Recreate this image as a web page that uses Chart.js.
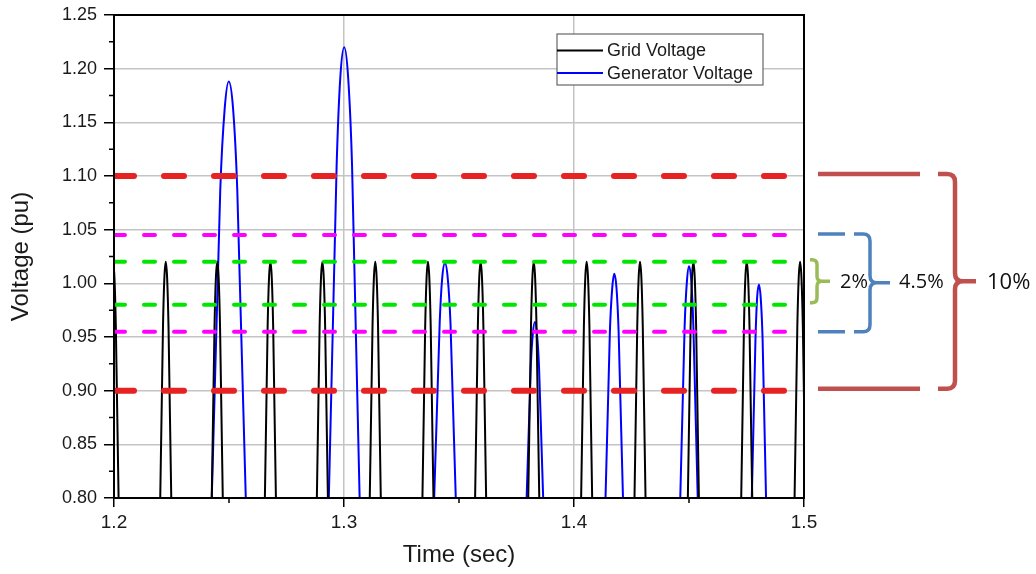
<!DOCTYPE html>
<html>
<head>
<meta charset="utf-8">
<title>Grid Voltage / Generator Voltage</title>
<script src="https://cdn.jsdelivr.net/npm/chart.js@4.4.1/dist/chart.umd.min.js"></script>
<style>
  html, body { margin: 0; padding: 0; background: #fff; }
  #wrap { width: 1036px; height: 574px; }
</style>
</head>
<body>
<div id="wrap"><canvas id="graficoTensao" width="1036" height="574"></canvas></div>
<script>
// Tensão da rede (pu) – só os topos das senoides aparecem acima de 0.80
const gridTime = [
  1.1966, 1.1972, 1.1984, 1.1990, 1.1996, 1.2002, 1.2008, 1.2020, 1.2026,
  1.2195, 1.2201, 1.2213, 1.2219, 1.2225, 1.2231, 1.2237, 1.2249, 1.2255,
  1.2419, 1.2425, 1.2437, 1.2443, 1.2449, 1.2455, 1.2461, 1.2473, 1.2479,
  1.2650, 1.2656, 1.2668, 1.2674, 1.2680, 1.2686, 1.2692, 1.2704, 1.2710,
  1.2876, 1.2882, 1.2894, 1.2900, 1.2906, 1.2912, 1.2918, 1.2930, 1.2936,
  1.3106, 1.3112, 1.3124, 1.3130, 1.3136, 1.3142, 1.3148, 1.3160, 1.3166,
  1.3335, 1.3341, 1.3353, 1.3359, 1.3365, 1.3371, 1.3377, 1.3389, 1.3395,
  1.3564, 1.3570, 1.3582, 1.3588, 1.3594, 1.3600, 1.3606, 1.3618, 1.3624,
  1.3795, 1.3801, 1.3813, 1.3819, 1.3825, 1.3831, 1.3837, 1.3849, 1.3855,
  1.4025, 1.4031, 1.4043, 1.4049, 1.4055, 1.4061, 1.4067, 1.4079, 1.4085,
  1.4257, 1.4263, 1.4275, 1.4281, 1.4287, 1.4293, 1.4299, 1.4311, 1.4317,
  1.4489, 1.4495, 1.4507, 1.4513, 1.4519, 1.4525, 1.4531, 1.4543, 1.4549,
  1.4721, 1.4727, 1.4739, 1.4745, 1.4751, 1.4757, 1.4763, 1.4775, 1.4781,
  1.4953, 1.4959, 1.4971, 1.4977, 1.4983, 1.4989, 1.4995, 1.5007, 1.5013
];
const gridVolt = [
  0.68, 0.80, 0.96, 1.005, 1.02, 1.005, 0.96, 0.80, 0.68,
  0.68, 0.80, 0.96, 1.005, 1.02, 1.005, 0.96, 0.80, 0.68,
  0.68, 0.80, 0.96, 1.005, 1.02, 1.005, 0.96, 0.80, 0.68,
  0.68, 0.80, 0.96, 1.005, 1.02, 1.005, 0.96, 0.80, 0.68,
  0.68, 0.80, 0.96, 1.005, 1.02, 1.005, 0.96, 0.80, 0.68,
  0.68, 0.80, 0.96, 1.005, 1.02, 1.005, 0.96, 0.80, 0.68,
  0.68, 0.80, 0.96, 1.005, 1.02, 1.005, 0.96, 0.80, 0.68,
  0.68, 0.80, 0.96, 1.005, 1.02, 1.005, 0.96, 0.80, 0.68,
  0.68, 0.80, 0.96, 1.005, 1.02, 1.005, 0.96, 0.80, 0.68,
  0.68, 0.80, 0.96, 1.005, 1.02, 1.005, 0.96, 0.80, 0.68,
  0.68, 0.80, 0.96, 1.005, 1.02, 1.005, 0.96, 0.80, 0.68,
  0.68, 0.80, 0.96, 1.005, 1.02, 1.005, 0.96, 0.80, 0.68,
  0.68, 0.80, 0.96, 1.005, 1.02, 1.005, 0.96, 0.80, 0.68,
  0.68, 0.80, 0.96, 1.005, 1.02, 1.005, 0.96, 0.80, 0.68
];

// Tensão do gerador (pu)
const genTime = [
  1.2407, 1.2425, 1.2462, 1.2481, 1.2499, 1.2518, 1.2536, 1.2573, 1.2592,
  1.2917, 1.2934, 1.2968, 1.2984, 1.3001, 1.3018, 1.3035, 1.3068, 1.3085,
  1.3380, 1.3392, 1.3416, 1.3427, 1.3439, 1.3451, 1.3463, 1.3486, 1.3498,
  1.3785, 1.3794, 1.3812, 1.3821, 1.3830, 1.3839, 1.3848, 1.3866, 1.3875,
  1.4128, 1.4137, 1.4156, 1.4166, 1.4175, 1.4185, 1.4194, 1.4213, 1.4223,
  1.4453, 1.4462, 1.4481, 1.4491, 1.4500, 1.4510, 1.4519, 1.4538, 1.4548,
  1.4765, 1.4773, 1.4789, 1.4796, 1.4804, 1.4812, 1.4820, 1.4835, 1.4843
];
const genVolt = [
  0.60, 0.80, 1.087, 1.162, 1.188, 1.162, 1.087, 0.80, 0.60,
  0.59, 0.80, 1.110, 1.192, 1.220, 1.192, 1.110, 0.80, 0.59,
  0.69, 0.80, 0.963, 1.005, 1.019, 1.005, 0.963, 0.80, 0.69,
  0.71, 0.80, 0.922, 0.953, 0.964, 0.953, 0.922, 0.80, 0.71,
  0.69, 0.80, 0.955, 0.995, 1.009, 0.995, 0.955, 0.80, 0.69,
  0.69, 0.80, 0.960, 1.002, 1.016, 1.002, 0.960, 0.80, 0.69,
  0.70, 0.80, 0.948, 0.986, 0.999, 0.986, 0.948, 0.80, 0.70
];

// Faixas de tolerância: ±10%, ±4.5%, ±2%
const limitesVermelho = [1.10, 0.90];
const limitesMagenta = [1.045, 0.955];
const limitesVerde = [1.02, 0.98];
const faixaRotulos = ['2%', '4.5%', '10%'];

const tempoMin = 1.2, tempoMax = 1.5;
const tensaoMin = 0.80, tensaoMax = 1.25;
const xMinorTicks = [1.25, 1.35, 1.45];
const yMinorTicks = [0.825, 0.875, 0.925, 0.975, 1.025, 1.075, 1.125, 1.175, 1.225];

const pontos = (ts, vs) => ts.map((t, i) => ({ x: t, y: vs[i] }));

const linhaLimite = (v, cor, largura, dash) => ({
    data: [{ x: tempoMin, y: v }, { x: tempoMax, y: v }],
    borderColor: cor,
    borderWidth: largura,
    borderDash: dash,
    borderCapStyle: 'round',
    pointRadius: 0,
    order: 0
});

Chart.defaults.font.family = "'Liberation Sans', Arial, sans-serif";
Chart.defaults.color = '#1a1a1a';

// Moldura, ticks menores, legenda e chaves das faixas
const extras = {
    id: 'extras',
    afterDraw(chart) {
        const { ctx, chartArea: a, scales } = chart;
        const xs = scales.x, ys = scales.y;
        ctx.save();

        // ticks menores
        ctx.strokeStyle = '#000';
        ctx.lineWidth = 1.5;
        ctx.beginPath();
        xMinorTicks.forEach(v => {
            const px = xs.getPixelForValue(v);
            ctx.moveTo(px, a.bottom);
            ctx.lineTo(px, a.bottom + 5);
        });
        yMinorTicks.forEach(v => {
            const py = ys.getPixelForValue(v);
            ctx.moveTo(a.left - 5, py);
            ctx.lineTo(a.left, py);
        });
        ctx.stroke();

        // moldura
        ctx.lineWidth = 2;
        ctx.strokeRect(a.left, a.top, a.right - a.left, a.bottom - a.top);

        // legenda
        const lx = a.left + 443, ly = a.top + 19, lw = 206, lh = 51;
        ctx.fillStyle = '#fff';
        ctx.fillRect(lx, ly, lw, lh);
        ctx.strokeStyle = '#666';
        ctx.lineWidth = 1.2;
        ctx.strokeRect(lx, ly, lw, lh);
        const itens = chart.data.datasets.filter(d => d.label);
        ctx.font = "18px 'Liberation Sans', Arial, sans-serif";
        ctx.textBaseline = 'middle';
        itens.forEach((d, i) => {
            const yy = ly + 16.5 + i * 22.5;
            ctx.strokeStyle = d.borderColor;
            ctx.lineWidth = 2;
            ctx.beginPath();
            ctx.moveTo(lx, yy);
            ctx.lineTo(lx + 46, yy);
            ctx.stroke();
            ctx.fillStyle = '#1a1a1a';
            ctx.fillText(d.label, lx + 50, yy + 1);
        });

        // chaves à direita
        const chave = (x0, xv, xt, yT, yB, r) => {
            const ym = (yT + yB) / 2;
            ctx.beginPath();
            ctx.moveTo(x0, yT);
            ctx.lineTo(xv - r, yT);
            ctx.quadraticCurveTo(xv, yT, xv, yT + r);
            ctx.lineTo(xv, ym - r);
            ctx.quadraticCurveTo(xv, ym, xv + r, ym);
            ctx.lineTo(xt, ym);
            ctx.moveTo(x0, yB);
            ctx.lineTo(xv - r, yB);
            ctx.quadraticCurveTo(xv, yB, xv, yB - r);
            ctx.lineTo(xv, ym + r);
            ctx.quadraticCurveTo(xv, ym, xv + r, ym);
            ctx.stroke();
        };
        const px = v => ys.getPixelForValue(v);
        const r0 = a.right;
        ctx.lineCap = 'butt';

        // 10%
        ctx.strokeStyle = '#c0504d';
        ctx.lineWidth = 4.5;
        ctx.beginPath();
        ctx.moveTo(r0 + 14, px(limitesVermelho[0]) - 2);
        ctx.lineTo(r0 + 116, px(limitesVermelho[0]) - 2);
        ctx.moveTo(r0 + 14, px(limitesVermelho[1]) - 2);
        ctx.lineTo(r0 + 116, px(limitesVermelho[1]) - 2);
        ctx.stroke();
        chave(r0 + 134, r0 + 151, r0 + 172, px(limitesVermelho[0]) - 2, px(limitesVermelho[1]) - 2, 8);

        // 4.5%
        ctx.strokeStyle = '#4f81bd';
        ctx.lineWidth = 3.5;
        ctx.beginPath();
        ctx.moveTo(r0 + 14, px(limitesMagenta[0]) - 1);
        ctx.lineTo(r0 + 41, px(limitesMagenta[0]) - 1);
        ctx.moveTo(r0 + 14, px(limitesMagenta[1]));
        ctx.lineTo(r0 + 41, px(limitesMagenta[1]));
        ctx.stroke();
        chave(r0 + 50, r0 + 66, r0 + 86, px(limitesMagenta[0]) - 1, px(limitesMagenta[1]), 7);

        // 2%
        ctx.strokeStyle = '#9bbb59';
        ctx.lineWidth = 3.5;
        chave(r0 + 6, r0 + 13, r0 + 26, px(limitesVerde[0]) - 2, px(limitesVerde[1]) - 2, 5);

        const ym = px(1.0) - 1;
        ctx.fillStyle = '#111';
        ctx.textBaseline = 'middle';
        ctx.font = "20px 'Open Sans', sans-serif";
        ctx.fillText(faixaRotulos[0], r0 + 36, ym);
        ctx.fillText(faixaRotulos[1], r0 + 95, ym);
        ctx.font = "22px 'Open Sans', sans-serif";
        ctx.fillText(faixaRotulos[2], r0 + 183, ym);

        ctx.restore();
    }
};

const ctx = document.getElementById('graficoTensao').getContext('2d');
const graficoTensao = new Chart(ctx, {
    type: 'line',
    data: {
        datasets: [
            {
                label: 'Grid Voltage',
                data: pontos(gridTime, gridVolt),
                borderColor: '#000000',
                borderWidth: 2,
                pointRadius: 0,
                cubicInterpolationMode: 'monotone',
                order: 1
            },
            {
                label: 'Generator Voltage',
                data: pontos(genTime, genVolt),
                borderColor: '#0000ff',
                borderWidth: 2,
                pointRadius: 0,
                cubicInterpolationMode: 'monotone',
                order: 2
            },
            linhaLimite(limitesVermelho[0], '#e62222', 6, [20, 30]),
            linhaLimite(limitesVermelho[1], '#e62222', 6, [20, 30]),
            linhaLimite(limitesMagenta[0], '#ff00ff', 4, [11, 19]),
            linhaLimite(limitesMagenta[1], '#ff00ff', 4, [11, 19]),
            linhaLimite(limitesVerde[0], '#00e600', 4, [11, 19]),
            linhaLimite(limitesVerde[1], '#00e600', 4, [11, 19])
        ]
    },
    options: {
        responsive: false,
        animation: false,
        devicePixelRatio: 1,
        layout: { padding: { top: 15, right: 232, left: 0, bottom: 0 } },
        plugins: {
            legend: { display: false },
            tooltip: { enabled: false }
        },
        scales: {
            x: {
                type: 'linear',
                min: tempoMin,
                max: tempoMax,
                afterFit: s => { s.height = 76; },
                ticks: {
                    stepSize: 0.1,
                    padding: 4,
                    font: { size: 19 },
                    maxRotation: 0,
                    callback: v => v.toFixed(1)
                },
                grid: {
                    color: '#c4c4c4',
                    lineWidth: 1.5,
                    tickLength: 9,
                    tickColor: '#000',
                    tickWidth: 1.5
                },
                border: { color: '#000', width: 2 },
                title: {
                    display: true,
                    text: 'Time (sec)',
                    font: { size: 24 },
                    padding: { top: 0, bottom: 4 }
                }
            },
            y: {
                min: tensaoMin,
                max: tensaoMax,
                afterFit: s => {
                    s.width = 114;
                    s.paddingTop = 0;
                    s.paddingBottom = 0;
                },
                ticks: {
                    stepSize: 0.05,
                    padding: 7,
                    font: { size: 18 },
                    callback: v => v.toFixed(2)
                },
                grid: {
                    color: '#c4c4c4',
                    lineWidth: 1.5,
                    tickLength: 10,
                    tickColor: '#000',
                    tickWidth: 1.5
                },
                border: { color: '#000', width: 2 },
                title: {
                    display: true,
                    text: 'Voltage (pu)',
                    font: { size: 24 },
                    padding: { top: 7, bottom: 0 }
                }
            }
        }
    },
    plugins: [extras]
});
</script>
</body>
</html>
